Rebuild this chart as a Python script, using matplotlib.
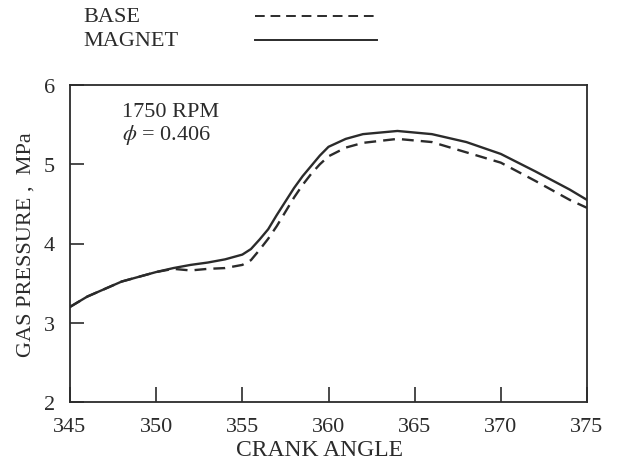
import matplotlib
matplotlib.use("Agg")
import matplotlib.pyplot as plt
from matplotlib.lines import Line2D

plt.rcParams['font.family'] = ['Liberation Serif', 'DejaVu Serif']
plt.rcParams['mathtext.fontset'] = 'stix'

crank = [345, 346, 348, 350, 351, 352, 353, 354, 355, 355.5, 356, 356.5, 357, 357.5,
         358, 358.5, 359, 359.5, 360, 361, 362, 364, 366, 368, 370, 372, 374, 375]
magnet = [3.20, 3.33, 3.52, 3.64, 3.69, 3.73, 3.76, 3.80, 3.86, 3.93, 4.05, 4.18, 4.36, 4.53,
          4.70, 4.85, 4.98, 5.11, 5.22, 5.32, 5.38, 5.42, 5.38, 5.28, 5.13, 4.91, 4.68, 4.55]
base = [3.20, 3.33, 3.52, 3.64, 3.68, 3.66, 3.68, 3.69, 3.73, 3.79, 3.92, 4.06, 4.22, 4.40,
        4.58, 4.74, 4.88, 5.00, 5.10, 5.21, 5.27, 5.32, 5.28, 5.15, 5.02, 4.79, 4.55, 4.45]

xticks = [345, 350, 355, 360, 365, 370, 375]
yticks = [2, 3, 4, 5, 6]
ink = '#2b2b2b'

fig = plt.figure(figsize=(6.18, 4.60), dpi=100)
ax = fig.add_axes([70/618, 1-403/460, (587-70)/618, (403-86)/460])

ax.plot(crank, magnet, color=ink, lw=1.7, solid_capstyle='round')
ax.plot(crank, base, color=ink, lw=1.7, dashes=(5, 3))

ax.set_xlim(345, 375)
ax.set_ylim(2, 6)
ax.set_xticks(xticks)
ax.set_yticks(yticks)
ax.tick_params(axis='x', direction='in', length=11, width=1.2, pad=10.5, labelsize=16, colors=ink)
ax.tick_params(axis='y', direction='in', length=10, width=1.2, pad=11, labelsize=16, colors=ink)
# hide ticks at the frame ends
for t in ax.xaxis.get_major_ticks():
    if t.get_loc() in (345, 375):
        t.tick1line.set_visible(False)
for t in ax.yaxis.get_major_ticks():
    if t.get_loc() in (2, 6):
        t.tick1line.set_visible(False)
for s in ax.spines.values():
    s.set_color(ink)
    s.set_linewidth(1.3)

ax.set_xlabel('CRANK ANGLE', fontsize=17, color=ink, va='center')
ax.xaxis.set_label_coords(0.482, (403-451)/317)
ax.set_ylabel('GAS PRESSURE ,  MPa', fontsize=16, color=ink, labelpad=6)

ax.text(0.10, 0.915, '1750 RPM', transform=ax.transAxes, fontsize=16, color=ink, va='center')
ax.text(0.10, 0.845, r'$\phi$ = 0.406', transform=ax.transAxes, fontsize=16, color=ink, va='center')

# legend at top of the figure
fig.text(83/618, 1-17/460, 'BASE', fontsize=16, color=ink, va='center', ha='left')
fig.text(83/618, 1-41/460, 'MAGNET', fontsize=16, color=ink, va='center', ha='left')
fig.add_artist(Line2D([255/618, 377/618], [1-17/460, 1-17/460], transform=fig.transFigure,
                      color=ink, lw=1.4, dashes=(5, 3)))
fig.add_artist(Line2D([255/618, 377/618], [1-41/460, 1-41/460], transform=fig.transFigure,
                      color=ink, lw=1.4))

fig.savefig('out.png', dpi=100, facecolor='white')
